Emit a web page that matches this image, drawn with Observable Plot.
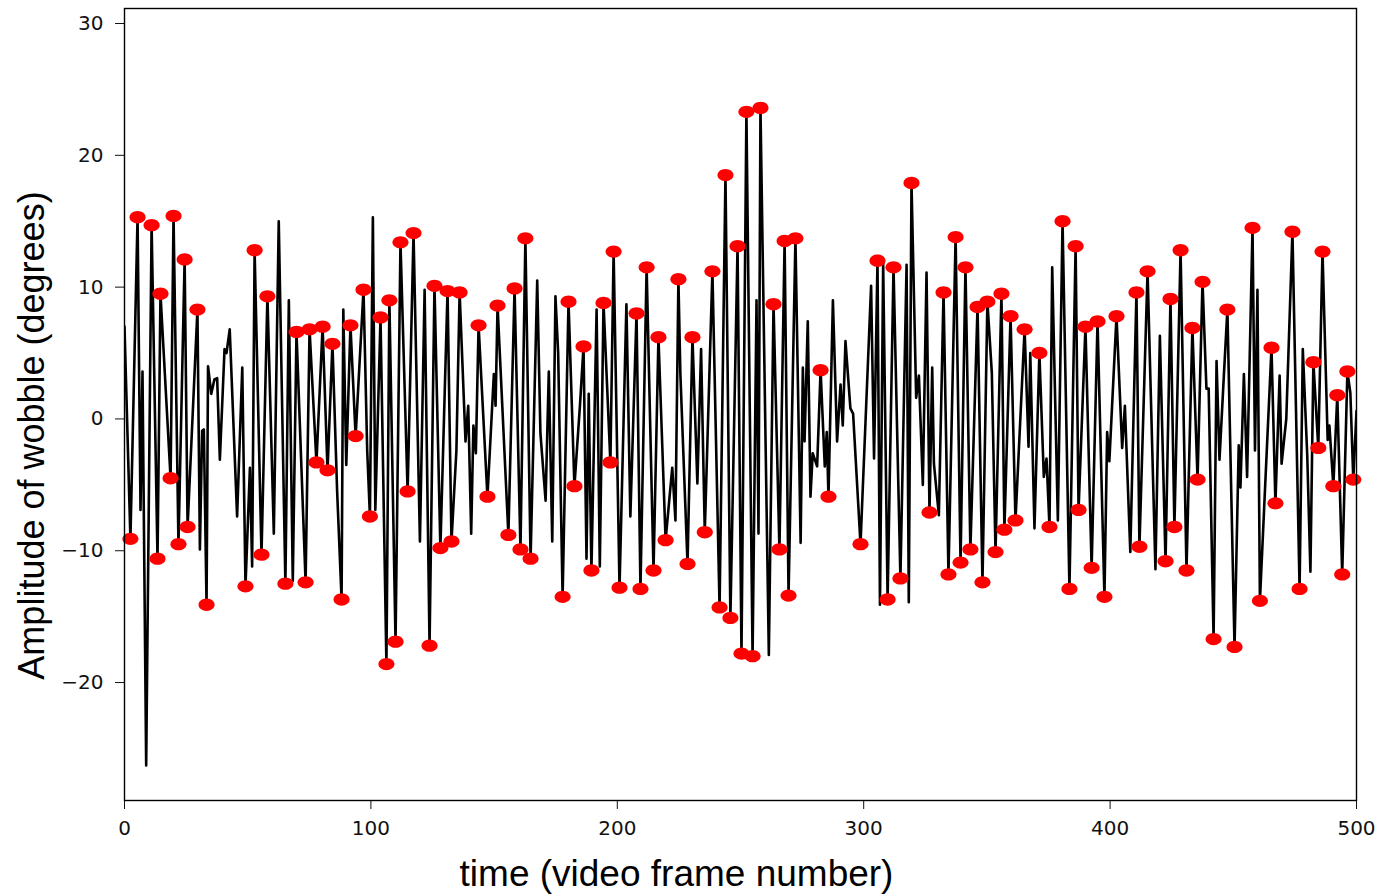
<!DOCTYPE html>
<html>
<head>
<meta charset="utf-8">
<script src="https://cdn.jsdelivr.net/npm/d3@7"></script>
<script src="https://cdn.jsdelivr.net/npm/@observablehq/plot@0.6"></script>
<style>
  html, body { margin: 0; padding: 0; background: white; }
</style>
</head>
<body>
<div id="chart"></div>
<script>
// Marked peaks (red dots): frame and amplitude
const peakFrames = [2.4,5.3,11,13.4,14.6,18.7,19.9,21.9,24.4,25.6,29.6,33.3,49.1,52.8,55.6,58,65.3,69.8,73.5,75.1,
  77.9,80.4,82.4,84.4,88.1,91.7,93.8,97,99.6,103.9,106.3,107.5,110,112,114.9,117.3,123.8,125.8,128.2,131.1,
  132.7,136,143.7,147.3,151.4,155.8,158.3,160.7,162.7,164.8,177.8,180.2,182.6,186.3,189.5,194.4,197.2,198.5,200.9,207.8,
  209.4,211.9,214.7,216.7,219.6,224.8,228.5,230.5,235.5,238.6,241.5,243.9,245.9,248.8,250.4,252.4,254.9,258.1,263.4,265.8,
  267.9,269.5,272.3,282.5,285.7,298.7,305.6,309.7,312.1,314.9,319.4,326.7,332.4,334.4,337.3,339.3,341.3,343.3,346.2,348.2,
  350.2,353.5,355.9,357.1,359.6,361.6,365.3,371.3,375.4,380.7,383.5,386,387.2,390,392.5,394.9,397.7,402.6,410.7,411.9,
  415.2,422.5,424.5,426.1,428.6,431,433.4,435.5,437.5,442,447.6,450.5,457.8,460.8,465.5,467.1,474,476.9,482.5,484.5,
  486.2,490.6,492.2,494.2,496.3,498.7];
const peakValues = [-9.1,15.3,14.7,-10.6,9.5,-4.5,15.4,-9.5,12.1,-8.2,8.3,-14.1,-12.7,12.8,-10.3,9.3,-12.5,6.6,-12.4,6.8,
  -3.3,7.0,-3.9,5.7,-13.7,7.1,-1.3,9.8,-7.4,7.7,-18.6,9.0,-16.9,13.4,-5.5,14.1,-17.2,10.1,-9.8,9.7,
  -9.3,9.6,7.1,-5.9,8.6,-8.8,9.9,-9.9,13.7,-10.6,-13.5,8.9,-5.1,5.5,-11.5,8.8,-3.3,12.7,-12.8,8.0,
  -12.9,11.5,-11.5,6.2,-9.2,10.6,-11.0,6.2,-8.6,11.2,-14.3,18.5,-15.1,13.1,-17.8,23.3,-18.0,23.6,8.7,-9.9,
  13.5,-13.4,13.7,3.7,-5.9,-9.5,12.0,-13.7,11.5,-12.1,17.9,-7.1,9.6,-11.8,13.8,-10.9,11.5,-9.9,8.5,-12.4,
  8.9,-10.1,9.5,-8.4,7.8,-7.7,6.8,5.0,-8.2,15.0,-12.9,13.1,-6.9,7.0,-11.3,7.4,-13.5,7.8,9.6,-9.7,
  11.2,-10.8,9.1,-8.2,12.8,-11.5,6.9,-4.6,10.4,-16.7,8.3,-17.3,14.5,-13.8,5.4,-6.4,14.2,-12.9,4.3,-2.2,
  12.7,-5.1,1.8,-11.8,3.6,-4.6];

// Other turning points of the signal (black line only)
const otherFrames = [0,6.5,7.3,8.8,30.6,31.5,32.2,33.9,35.2,36.5,37.6,38.7,40.6,41.4,42.7,45.7,47.8,50.9,51.8,60.6,
  62.6,66.7,68.3,86.3,88.8,90.0,98.5,100.8,101.8,119.9,121.8,134.7,138.4,139.5,140.7,141.6,142.6,149.9,150.6,167.5,
  168.8,170.9,172.2,173.6,174.9,176.0,184.8,187.5,188.4,191.6,192.9,203.7,205.3,222.3,223.6,225.6,232.5,234.0,256.5,257.3,
  261.5,274.4,275.3,276.0,277.3,278.4,279.3,281.1,284.2,285.0,287.5,289.2,290.6,291.5,292.6,294.6,295.7,303.0,304.2,306.6,
  307.9,317.4,318.3,321.3,322.4,324.0,325.5,327.8,328.5,330.5,352.0,366.9,367.6,369.3,373.1,374.2,376.5,378.8,398.8,399.7,
  404.9,406.0,408.2,418.4,420.2,439.1,440.0,443.2,444.4,446.2,452.2,452.9,454.3,455.6,458.8,459.8,468.8,469.6,471.5,478.2,
  480.0,481.3,488.3,489.0,497.5,500.0];
const otherValues = [7.0,-6.9,3.6,-26.3,-9.9,-0.9,-0.8,4.0,1.9,3.0,3.1,-3.1,5.3,5.0,6.8,-7.4,3.9,-3.7,-11.2,-8.7,
  15.0,9.0,-12.3,-5.5,8.3,-3.5,-2.4,15.3,-6.9,-9.3,9.8,-2.4,-1.7,1.0,-8.7,-0.5,-2.6,3.4,1.0,10.5,
  -1.1,-6.2,3.6,-9.3,9.3,5.0,0.9,-10.6,1.9,8.3,-11.2,8.7,-7.4,-3.7,-7.7,3.4,-4.9,5.3,9.0,-8.7,
  -17.9,-9.4,3.9,-1.7,7.4,-5.9,-2.6,-3.6,-3.6,-1.0,9.0,-1.7,2.6,-0.5,5.9,0.8,0.4,10.1,-3.0,-14.1,
  11.8,11.7,-13.9,1.6,3.3,-5.0,11.1,3.9,-3.4,-7.3,3.5,-2.1,5.0,-8.3,-4.4,-3.0,11.5,-7.7,-1.0,-3.2,
  -2.2,1.0,-10.1,-11.4,6.3,2.3,2.3,4.4,-3.1,3.4,-2.0,-5.2,3.4,-4.4,-2.4,9.8,3.3,-3.4,0.0,5.3,
  -2.7,-11.6,-1.6,-0.5,2.0,0.6];

const xTicks = [0, 100, 200, 300, 400, 500];
const yTicks = [-20, -10, 0, 10, 20, 30];
const xLabel = "time (video frame number)";
const yLabel = "Amplitude of wobble (degrees)";

const peaks = peakFrames.map((f, i) => ({frame: f, value: peakValues[i]}));
const others = otherFrames.map((f, i) => ({frame: f, value: otherValues[i]}));
const signal = peaks.concat(others).sort((a, b) => a.frame - b.frame);

// slightly wide ellipse marker, like the reference
const ellipse = {
  draw(context, size) {
    const r = Math.sqrt(size / Math.PI);
    const rx = r * 1.15, ry = r * 0.88, k = 0.5523;
    context.moveTo(rx, 0);
    context.bezierCurveTo(rx, ry * k, rx * k, ry, 0, ry);
    context.bezierCurveTo(-rx * k, ry, -rx, ry * k, -rx, 0);
    context.bezierCurveTo(-rx, -ry * k, -rx * k, -ry, 0, -ry);
    context.bezierCurveTo(rx * k, -ry, rx, -ry * k, rx, 0);
    context.closePath();
  }
};

const chart = Plot.plot({
  width: 1388,
  height: 894,
  marginLeft: 124,
  marginRight: 32,
  marginTop: 8,
  marginBottom: 94,
  style: {fontFamily: "DejaVu Sans", fontSize: "20px", color: "#111", background: "white"},
  x: {domain: [0, 500]},
  y: {domain: [-28.95, 31.14]},
  marks: [
    Plot.axisX({ticks: xTicks, tickSize: 9, tickPadding: 11, fontSize: 20, label: null, tickFormat: d3.format("d")}),
    Plot.axisY({ticks: yTicks, tickSize: 9, tickPadding: 12, fontSize: 20, label: null, tickFormat: d => d < 0 ? "\u2212" + Math.abs(d) : String(d)}),
    Plot.line(signal, {x: "frame", y: "value", stroke: "black", strokeWidth: 2.6, clip: true}),
    Plot.dot(peaks, {x: "frame", y: "value", fill: "red", r: 7, symbol: ellipse}),
    Plot.frame({stroke: "black", strokeWidth: 1.4}),
    Plot.text([xLabel], {frameAnchor: "bottom", textAnchor: "middle", lineAnchor: "bottom", dx: -64, dy: 85, fontSize: 37, fontFamily: "Liberation Sans", fill: "black"}),
    Plot.text([yLabel], {frameAnchor: "left", textAnchor: "middle", lineAnchor: "middle", rotate: -90, dx: -92.5, dy: 31, fontSize: 36, fontFamily: "Liberation Sans", fill: "black"})
  ]
});
document.getElementById("chart").appendChild(chart);
</script>
</body>
</html>
